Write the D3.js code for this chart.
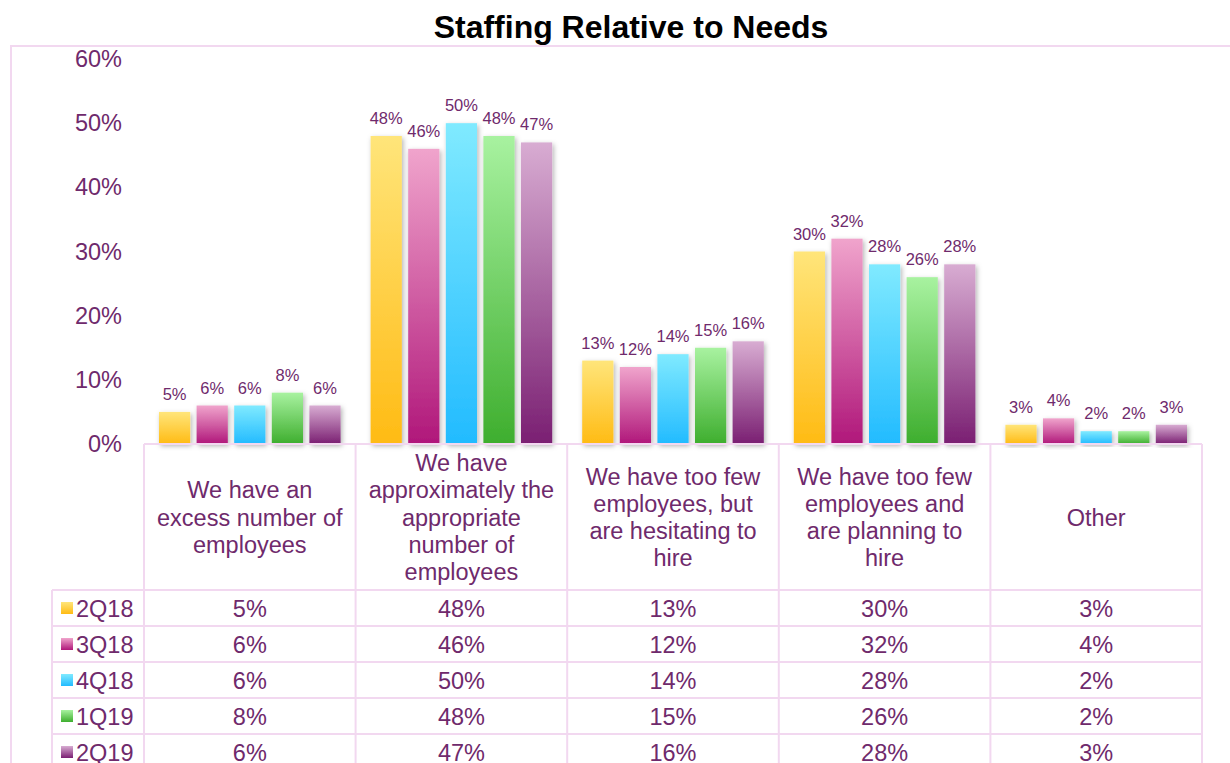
<!DOCTYPE html>
<html>
<head>
<meta charset="utf-8">
<script src="https://cdn.jsdelivr.net/npm/d3@7"></script>
<style>
  html, body { margin: 0; padding: 0; background: #fff; }
  svg { display: block; }
  text { font-family: "Liberation Sans", Arial, sans-serif; }
</style>
</head>
<body>
<svg id="chart" width="1230" height="763"></svg>
<script>
// Response categories (x axis) and survey quarters (series)
const categories = [
  "We have an excess number of employees",
  "We have approximately the appropriate number of employees",
  "We have too few employees, but are hesitating to hire",
  "We have too few employees and are planning to hire",
  "Other"
];
const categoryLines = [
  ["We have an", "excess number of", "employees"],
  ["We have", "approximately the", "appropriate", "number of", "employees"],
  ["We have too few", "employees, but", "are hesitating to", "hire"],
  ["We have too few", "employees and", "are planning to", "hire"],
  ["Other"]
];
const seriesNames = ["2Q18", "3Q18", "4Q18", "1Q19", "2Q19"];
const v2Q18 = [5, 48, 13, 30, 3];
const v3Q18 = [6, 46, 12, 32, 4];
const v4Q18 = [6, 50, 14, 28, 2];
const v1Q19 = [8, 48, 15, 26, 2];
const v2Q19 = [6, 47, 16, 28, 3];
const seriesValues = [v2Q18, v3Q18, v4Q18, v1Q19, v2Q19];
const yTicks = [0, 10, 20, 30, 40, 50, 60];

// Gradient stops per series: light top, saturated bottom
const gradTop = ["#ffe57a", "#f0a4cc", "#80eaff", "#a8f2a0", "#d8acd2"];
const gradBottom = ["#ffbb14", "#b0177a", "#22bbff", "#3eae2e", "#7a1f72"];

const textColor = "#6f2a6c";
const gridColor = "#f2d8f0";

const svg = d3.select("#chart");
const defs = svg.append("defs");

seriesNames.forEach((s, i) => {
  const g = defs.append("linearGradient")
    .attr("id", "grad" + i).attr("x1", 0).attr("y1", 0).attr("x2", 0).attr("y2", 1);
  g.append("stop").attr("offset", "0%").attr("stop-color", gradTop[i]);
  g.append("stop").attr("offset", "100%").attr("stop-color", gradBottom[i]);
});

const shadow = defs.append("filter").attr("id", "shadow")
  .attr("x", "-30%").attr("y", "-10%").attr("width", "160%").attr("height", "130%");
shadow.append("feDropShadow")
  .attr("dx", 1.5).attr("dy", 2).attr("stdDeviation", 2.5)
  .attr("flood-color", "#000").attr("flood-opacity", 0.3);

// Layout
const plotLeft = 144, plotRight = 1202;
const plotTop = 59, plotBottom = 444;
const legendLeft = 52;
const headerBottom = 590;
const rowH = 36;
const fontMain = 23.5;

const x = d3.scaleBand().domain(categories).range([plotLeft, plotRight]).paddingInner(0).paddingOuter(0);
const xs = d3.scaleBand().domain(seriesNames)
  .range([15, x.bandwidth() - 15]).paddingInner(0.17).paddingOuter(0);
const y = d3.scaleLinear().domain([0, 60]).range([plotBottom, plotTop]);

// Outer frame
svg.append("path")
  .attr("d", `M11,763 L11,46 L1232,46`)
  .attr("fill", "none").attr("stroke", gridColor).attr("stroke-width", 2);

// Title
svg.append("text")
  .attr("x", 631).attr("y", 38)
  .attr("text-anchor", "middle")
  .attr("font-size", 32).attr("font-weight", "bold").attr("fill", "#000")
  .text("Staffing Relative to Needs");

// Y axis labels
const yAxis = d3.axisLeft(y).tickValues(yTicks).tickFormat(d => d + "%").tickSize(0).tickPadding(0);
const yg = svg.append("g").attr("transform", `translate(122,0)`).call(yAxis);
yg.select(".domain").remove();
yg.selectAll("text")
  .attr("font-size", fontMain).attr("fill", textColor)
  .attr("font-family", "Liberation Sans, Arial, sans-serif");

// Bars
const groups = svg.append("g").selectAll("g")
  .data(categories).join("g")
  .attr("transform", d => `translate(${x(d)},0)`);

groups.each(function(cat, ci) {
  const g = d3.select(this);
  const data = seriesNames.map((s, si) => ({ s, si, v: seriesValues[si][ci] }));
  g.selectAll("rect").data(data).join("rect")
    .attr("x", d => xs(d.s))
    .attr("y", d => y(d.v))
    .attr("width", xs.bandwidth())
    .attr("height", d => y(0) - y(d.v))
    .attr("fill", d => `url(#grad${d.si})`)
    .attr("filter", "url(#shadow)");
  g.selectAll("text.val").data(data).join("text")
    .attr("class", "val")
    .attr("x", d => xs(d.s) + xs.bandwidth() / 2)
    .attr("y", d => y(d.v) - 12)
    .attr("text-anchor", "middle")
    .attr("font-size", 16.5).attr("fill", textColor)
    .text(d => d.v + "%");
});

// Data table grid
const grid = svg.append("g").attr("stroke", gridColor).attr("stroke-width", 2);
const tableBottom = headerBottom + rowH * seriesNames.length;
grid.append("line").attr("x1", plotLeft).attr("x2", plotRight).attr("y1", plotBottom).attr("y2", plotBottom);
d3.range(seriesNames.length + 1).forEach(r => {
  const yy = headerBottom + r * rowH;
  grid.append("line").attr("x1", legendLeft).attr("x2", plotRight).attr("y1", yy).attr("y2", yy);
});
const colEdges = categories.map(c => x(c)).concat([plotRight]);
colEdges.forEach(cx => {
  grid.append("line").attr("x1", cx).attr("x2", cx).attr("y1", plotBottom).attr("y2", tableBottom);
});
grid.append("line").attr("x1", legendLeft).attr("x2", legendLeft).attr("y1", headerBottom).attr("y2", tableBottom);

// Category header labels
const lineH = 27.3;
categories.forEach((c, ci) => {
  const lines = categoryLines[ci];
  const cx = x(c) + x.bandwidth() / 2;
  const cy = (plotBottom + headerBottom) / 2;
  const t = svg.append("text")
    .attr("text-anchor", "middle").attr("font-size", fontMain).attr("fill", textColor);
  lines.forEach((ln, li) => {
    t.append("tspan")
      .attr("x", cx)
      .attr("y", cy + (li - (lines.length - 1) / 2) * lineH + 8.5)
      .text(ln);
  });
});

// Table rows: legend key + values
seriesNames.forEach((s, si) => {
  const rowMid = headerBottom + si * rowH + rowH / 2;
  svg.append("rect")
    .attr("x", 61).attr("y", rowMid - 6).attr("width", 12).attr("height", 12)
    .attr("fill", `url(#grad${si})`);
  svg.append("text")
    .attr("x", 76).attr("y", rowMid + 8.5)
    .attr("font-size", fontMain).attr("fill", textColor)
    .text(s);
  categories.forEach((c, ci) => {
    svg.append("text")
      .attr("x", x(c) + x.bandwidth() / 2).attr("y", rowMid + 8.5)
      .attr("text-anchor", "middle")
      .attr("font-size", fontMain).attr("fill", textColor)
      .text(seriesValues[si][ci] + "%");
  });
});
</script>
</body>
</html>
